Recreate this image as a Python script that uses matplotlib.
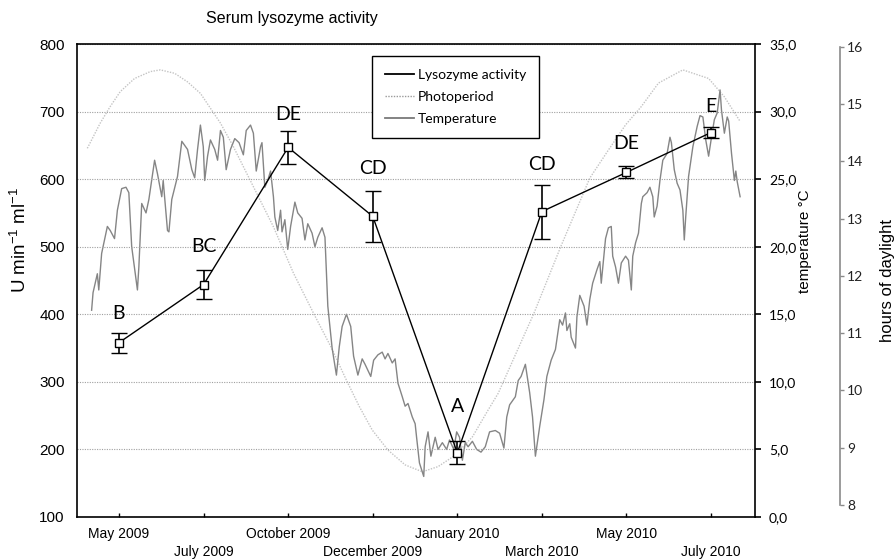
import matplotlib
matplotlib.use("Agg")
import matplotlib.pyplot as plt
from matplotlib.lines import Line2D
from matplotlib.ticker import FuncFormatter, MultipleLocator

plt.rcParams['font.family'] = ['Liberation Sans', 'DejaVu Sans']
plt.rcParams['mathtext.fontset'] = 'custom'
plt.rcParams['mathtext.rm'] = 'Liberation Sans'
plt.rcParams['mathtext.default'] = 'rm'

# ---------------- data ----------------
sample_labels = ["May 2009", "July 2009", "October 2009", "December 2009",
                 "January 2010", "March 2010", "May 2010", "July 2010"]
lysozyme = [358, 444, 647, 545, 195, 552, 610, 669]
lysozyme_err = [15, 22, 24, 38, 17, 40, 9, 8]
groups = ["B", "BC", "DE", "CD", "A", "CD", "DE", "E"]

# days since 1 May 2009
temp_day = [3, 4, 7, 8, 10, 14, 16, 19, 21, 24, 27, 29, 31, 35, 36, 38, 41, 43, 47, 49,
            52, 53, 56, 57, 59, 63, 66, 70, 73, 75, 77, 79, 81, 82, 84, 86, 89, 91, 93, 95,
            97, 100, 103, 106, 109, 111, 114, 116, 118, 121, 122, 124, 126, 128, 130, 131,
            133, 135, 136, 138, 140, 142, 144, 145, 147, 150, 152, 154, 157, 159, 161, 164,
            166, 168, 171, 174, 176, 178, 181, 184, 186, 189,
            192, 194, 198, 200, 203, 206, 208, 210, 213, 215, 217, 220, 222, 224, 227, 229,
            230, 232, 235, 236, 238, 240, 243, 245, 248, 251, 253, 256, 258, 260, 262, 264,
            266, 269, 272, 275, 278, 281, 285,
            288, 291, 293, 295, 299, 301, 303, 306, 309, 311, 313, 316, 319, 321, 324, 327,
            330, 332, 334, 335, 337, 338, 341, 342, 344, 347, 349, 351, 353, 356, 358, 359,
            362, 364, 366, 367, 369, 371, 373, 376, 378,
            380, 381, 383, 385, 387, 388, 391, 393, 395, 396, 398, 400, 402, 405, 407, 408,
            410, 412, 414, 416, 417, 418, 420, 423, 426, 428, 430, 432, 434, 436, 438, 440,
            442, 443, 445, 447, 448, 450, 452, 453, 454, 456]
temp_c = [15.3, 16.6, 18.0, 16.8, 19.5, 21.5, 21.2, 20.6, 22.7, 24.3, 24.4, 24.0, 20.0, 16.8,
          18.5, 23.2, 22.5, 23.5, 26.4, 25.4, 23.7, 24.9, 21.2, 21.1, 23.5, 25.2, 27.8, 27.2,
          25.7, 25.1, 27.2, 29.0, 27.4, 24.9, 26.7, 27.9, 27.2, 26.4, 28.6, 28.1,
          25.7, 27.2, 28.0, 27.7, 26.8, 28.6, 29.0, 28.4, 25.6, 27.4, 27.7, 24.4, 24.9, 25.6,
          23.7, 22.2, 21.2, 22.7, 21.1, 22.0, 19.8, 21.5, 22.7, 23.3, 22.5, 22.1, 20.5, 21.7,
          21.0, 20.0, 20.7, 21.4, 20.7, 15.6, 12.5, 10.5, 12.6, 14.1, 15.0, 14.1, 11.9, 10.5,
          11.7, 11.3, 10.4, 11.6, 12.0, 12.2, 11.7, 12.1, 11.4, 11.7, 9.9, 8.9, 8.2, 8.4, 7.4,
          6.9, 5.9, 4.0, 3.0, 5.2, 6.3, 4.5, 5.9, 5.0, 5.5, 5.0, 5.7, 5.0, 6.3, 5.9, 4.2, 5.5,
          5.2, 5.6, 5.0, 4.8, 5.2, 6.3, 6.4,
          6.2, 5.1, 7.4, 8.3, 8.9, 10.1, 10.4, 11.3, 9.2, 7.4, 4.5, 6.7, 8.7, 10.4, 11.6, 12.4,
          14.6, 14.2, 15.1, 13.8, 14.3, 13.3, 12.5, 14.8, 16.4, 15.6, 14.2, 16.1, 17.3, 18.3,
          18.9, 17.3, 20.6, 21.4, 21.5, 19.3, 18.5, 17.3, 18.8, 19.3, 19.0,
          16.8, 19.3, 20.3, 21.0, 23.2, 23.7, 24.0, 24.4, 23.7, 22.2, 23.0, 24.9, 26.4, 26.9,
          28.1, 27.7, 25.7, 24.7, 24.2, 22.7, 20.5, 22.2, 25.2, 27.4, 28.9, 29.7, 29.6, 27.9,
          26.7, 28.1, 29.4, 29.9, 31.6, 30.1, 28.4, 29.6, 29.3, 26.9, 24.9, 25.6, 24.8, 23.7]

photo_day = [0, 9, 16, 23, 33, 44, 51, 61, 70, 79, 86, 93, 102, 116, 130, 144, 158, 170, 181,
             190, 199, 210, 222, 234, 245, 257, 269, 280, 287, 312, 331, 351, 364, 376, 387,
             399, 416, 434, 445, 456]
photo_hours = [14.23, 14.67, 14.96, 15.22, 15.45, 15.57, 15.60, 15.54, 15.39, 15.19, 14.93,
               14.67, 14.26, 13.56, 12.86, 12.05, 11.35, 10.77, 10.18, 9.72, 9.31, 8.96, 8.70,
               8.58, 8.67, 8.87, 9.19, 9.66, 9.95, 11.35, 12.53, 13.71, 14.20, 14.64, 14.96,
               15.37, 15.60, 15.45, 15.13, 14.70]

# label offsets above the error bar (pixels)
label_offsets_px = [19, 23, 17, 22, 35, 20, 23, 21]

# ---------------- figure ----------------
W, H = 896, 560
fig = plt.figure(figsize=(W / 100, H / 100), dpi=100)
L, R, T, B = 77.3, 755, 44, 517
rect = [L / W, 1 - B / H, (R - L) / W, (B - T) / H]
day_lim = (-7.0, 466.4)

# photoperiod axis
ax_p = fig.add_axes(rect)
ax_p.patch.set_visible(False)
ax_p.plot(photo_day, photo_hours, color='#c4c4c4', lw=1.0, ls=(0, (1, 1)))
ax_p.set_xlim(*day_lim)
ax_p.set_ylim(7.790, 16.052)
for s in ['top', 'bottom', 'left']:
    ax_p.spines[s].set_visible(False)
ax_p.spines['right'].set_position(('axes', 1 + 85 / (R - L)))
ax_p.spines['right'].set_bounds(8, 16)
ax_p.spines['right'].set_color('#8a8a8a')
ax_p.spines['right'].set_linewidth(1.2)
ax_p.xaxis.set_visible(False)
ax_p.yaxis.tick_right()
ax_p.set_yticks(range(8, 17))
ax_p.tick_params(axis='y', direction='out', length=3, width=1, color='#8a8a8a',
                 pad=2, labelsize=10, labelcolor='#222222')
for lb in ax_p.get_yticklabels():
    lb.set_fontfamily('Lato')

# temperature axis
ax_t = fig.add_axes(rect)
ax_t.patch.set_visible(False)
ax_t.plot(temp_day, temp_c, color='#858585', lw=1.0)
ax_t.set_xlim(*day_lim)
ax_t.set_ylim(0, 35)
for s in ax_t.spines.values():
    s.set_visible(False)
ax_t.xaxis.set_visible(False)
ax_t.yaxis.tick_right()
ax_t.yaxis.set_major_locator(MultipleLocator(5))
ax_t.yaxis.set_major_formatter(FuncFormatter(lambda v, p: f"{v:.1f}".replace('.', ',')))
ax_t.tick_params(axis='y', direction='out', length=4, width=1.2, color='black',
                 pad=6, labelsize=10)
for lb in ax_t.get_yticklabels():
    lb.set_fontfamily('Lato')

# main axis (lysozyme)
ax = fig.add_axes(rect)
ax.patch.set_visible(False)
x = list(range(len(sample_labels)))
ax.set_xlim(-0.493, 7.52)
ax.set_ylim(100, 800)
ax.set_yticks(range(100, 801, 100))
ax.yaxis.grid(True, linestyle=(0, (1, 1.2)), color='#a0a0a0', lw=0.8)
ax.set_axisbelow(True)
for s in ax.spines.values():
    s.set_linewidth(1.2)
    s.set_color('black')
ax.tick_params(axis='y', left=True, length=0, pad=9, labelsize=11)
ax.tick_params(axis='x', direction='in', length=3, width=1, pad=7, labelsize=10)
ax.set_xticks(x)
ax.set_xticklabels([("\n" if i % 2 else "") + s for i, s in enumerate(sample_labels)])
for lb in ax.get_xticklabels():
    lb.set_linespacing(1.35)

ax.errorbar(x, lysozyme, yerr=lysozyme_err, fmt='-s', color='black', lw=1.0,
            ms=5.5, mfc='white', mec='black', mew=1.0, capsize=6, elinewidth=1.2,
            capthick=1.2, zorder=5)
for i, g in enumerate(groups):
    ax.annotate(g, (x[i], lysozyme[i] + lysozyme_err[i]),
                xytext=(0, label_offsets_px[i] * 0.72), textcoords='offset points',
                ha='center', va='center', fontsize=14, fontfamily='Lato')

handles = [Line2D([], [], color='black', lw=1.3),
           Line2D([], [], color='#9a9a9a', lw=1.0, ls=(0, (1, 1))),
           Line2D([], [], color='#7a7a7a', lw=1.3)]
leg = ax.legend(handles, ["Lysozyme activity", "Photoperiod", "Temperature"],
                loc='upper left', bbox_to_anchor=(0.435, 0.9746), borderaxespad=0,
                frameon=True, fancybox=False, framealpha=1, edgecolor='black',
                prop={'family': 'Lato', 'size': 10}, handlelength=2.15,
                handletextpad=0.25, labelspacing=0.75, borderpad=0.9)
leg.get_frame().set_linewidth(1.0)
leg.set_zorder(10)

# texts
fig.text(292 / W, 1 - 18 / H, "Serum lysozyme activity", ha='center', va='center',
         fontsize=11.5)
fig.text(20 / W, 1 - 240 / H, r"U min$^{-1}$ ml$^{-1}$", rotation=90, ha='center',
         va='center', fontsize=13.5)
fig.text(805 / W, 1 - 241 / H, "temperature °C", rotation=90, ha='center', va='center',
         fontsize=11)
fig.text(887 / W, 1 - 280 / H, "hours of daylight", rotation=90, ha='center',
         va='center', fontsize=12)

fig.savefig("out.png", dpi=100)
